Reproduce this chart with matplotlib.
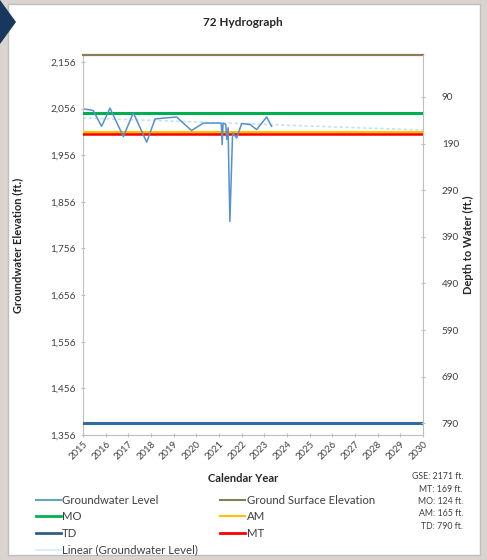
import numpy as np
import matplotlib.pyplot as plt
from matplotlib.patches import Rectangle, Polygon
from matplotlib.lines import Line2D

plt.rcParams['font.family'] = ['Lato', 'DejaVu Sans']

# groundwater level readings (decimal year, elevation ft)
gw_years = [2015.09, 2015.45, 2015.82, 2016.19, 2016.78, 2017.22, 2017.81, 2018.18,
            2019.13, 2019.79, 2020.31, 2021.10, 2021.14, 2021.18, 2021.30, 2021.34,
            2021.40, 2021.48, 2021.60, 2021.78, 2022.00, 2022.37, 2022.66, 2023.10, 2023.32]
gw_elev = [2055, 2052, 2018, 2057, 1996, 2047, 1984, 2034,
           2038, 2009, 2025, 2025, 1979, 2025, 2022, 1990,
           2015, 1814, 2004, 1993, 2024, 2022, 2011, 2038, 2018]

# linear trendline end points
trend_years = [2015, 2030]
trend_elev = [2036, 2010]

gse = 2171
depths = {'MT': 169, 'MO': 124, 'AM': 165, 'TD': 790}
year_ticks = list(range(2015, 2031))
elev_ticks = list(range(1356, 2157, 100))
depth_ticks = list(range(90, 791, 100))

fig = plt.figure(figsize=(4.87, 5.60), dpi=100)
fig.patch.set_facecolor('#d9d4cf')
fig.patches.append(Rectangle((8 / 487, 5 / 560), 472 / 487, 551 / 560, transform=fig.transFigure,
                             facecolor='white', edgecolor='#bfbfbf', linewidth=1, zorder=-10))
fig.patches.append(Polygon([(0, 1), (0, 1 - 44 / 560), (16 / 487, 1 - 22 / 560)], closed=True,
                           transform=fig.transFigure, facecolor='#17375e', edgecolor='none', zorder=-9))

ax = fig.add_axes([83 / 487, 1 - 435 / 560, 340 / 487, 380 / 560])
ax.patch.set_alpha(0)
ax.set_xlim(2015, 2030)
ax.set_ylim(1356, gse)

x0, x1 = 2015, 2030
ax.plot([x0, x1], [gse, gse], color='#8c7b57', lw=1.6, clip_on=False, zorder=3)
ax.plot([x0, x1], [gse - depths['MO']] * 2, color='#00b050', lw=2.2, zorder=3)
ax.plot([x0, x1], [gse - depths['AM']] * 2, color='#ffc000', lw=2.2, zorder=3)
ax.plot([x0, x1], [gse - depths['MT']] * 2, color='#ff0000', lw=1.8, zorder=4)
ax.plot([x0, x1], [gse - depths['TD']] * 2, color='#2e6ba4', lw=2.2, zorder=3)
ax.plot(trend_years, trend_elev, color='#c6e2f2', lw=1.2, ls=(0, (2, 1.5)), zorder=2)
ax.plot(gw_years, gw_elev, color='#5590cf', lw=1.1, zorder=5)

ax.set_xticks(year_ticks)
ax.set_xticklabels([str(y) for y in year_ticks], rotation=45, ha='right',
                   rotation_mode='anchor', fontsize=6.8, color='#404040')
ax.set_yticks(elev_ticks)
ax.set_yticklabels([f'{v:,}' for v in elev_ticks], fontsize=7.2, color='#404040')
ax.tick_params(axis='both', direction='inout', length=3, color='#bfbfbf', width=0.8)
ax.tick_params(axis='x', pad=2)
for s in ['left', 'bottom']:
    ax.spines[s].set_color('#bfbfbf')
ax.spines['top'].set_visible(False)
ax.spines['right'].set_visible(False)

ax2 = ax.twinx()
ax2.set_ylim(gse - 1356, 0)
ax2.set_yticks(depth_ticks)
ax2.set_yticklabels([str(v) for v in depth_ticks], fontsize=7.2, color='#404040')
ax2.tick_params(axis='y', direction='inout', length=3, color='#bfbfbf', width=0.8, pad=12)
for s in ['left', 'top', 'bottom']:
    ax2.spines[s].set_visible(False)
ax2.spines['right'].set_color('#bfbfbf')

fig.text(243 / 487, 1 - 22 / 560, '72 Hydrograph', ha='center', va='center',
         fontsize=8.5, fontweight='bold', color='#262626')
fig.text(18 / 487, 1 - 245 / 560, 'Groundwater Elevation (ft.)', ha='center', va='center',
         rotation=90, fontsize=8, fontweight='bold', color='#262626')
fig.text(468 / 487, 1 - 245 / 560, 'Depth to Water (ft.)', ha='center', va='center',
         rotation=90, fontsize=8, fontweight='bold', color='#262626')
fig.text(243 / 487, 1 - 478 / 560, 'Calendar Year', ha='center', va='center',
         fontsize=8, fontweight='bold', color='#262626')

handles = [
    Line2D([], [], color='#5fa8b8', lw=1.5),
    Line2D([], [], color='#00b050', lw=2),
    Line2D([], [], color='#2e5f8a', lw=2),
    Line2D([], [], color='#dceef6', lw=1.5),
    Line2D([], [], color='#8c7b57', lw=1.5),
    Line2D([], [], color='#ffc000', lw=1.5),
    Line2D([], [], color='#ff0000', lw=2),
]
labels = ['Groundwater Level', 'MO', 'TD', 'Linear (Groundwater Level)',
          'Ground Surface Elevation', 'AM', 'MT']
fig.legend(handles, labels, loc='upper left', bbox_to_anchor=(31 / 487, 1 - 490 / 560),
           ncol=2, frameon=False, fontsize=8.2, handlelength=2.2, handletextpad=0.1,
           columnspacing=2.0, labelspacing=0.5, borderaxespad=0, labelcolor='#404040')

note = (f"GSE: {gse} ft.\nMT: {depths['MT']} ft.\nMO: {depths['MO']} ft.\n"
        f"AM: {depths['AM']} ft.\nTD: {depths['TD']} ft.")
fig.text(463 / 487, 1 - 472 / 560, note, ha='right', va='top', fontsize=6.3,
         color='#404040', linespacing=1.5)

fig.savefig('out.png', dpi=100)
